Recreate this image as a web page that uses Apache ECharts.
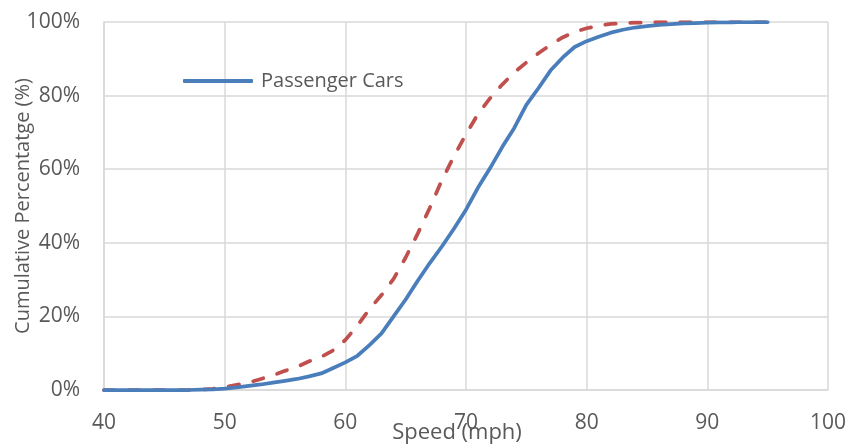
<!DOCTYPE html>
<html>
<head>
<meta charset="utf-8">
<script src="https://cdn.jsdelivr.net/npm/echarts@6/dist/echarts.min.js"></script>
<style>html,body{margin:0;padding:0;background:#fff}#c{width:850px;height:448px}</style>
</head>
<body>
<div id="c"></div>
<script>
const speedMph = [40,41,42,43,44,45,46,47,48,49,50,51,52,53,54,55,56,57,58,59,60,61,62,63,64,65,66,67,68,69,70,71,72,73,74,75,76,77,78,79,80,81,82,83,84,85,86,87,88,89,90,91,92,93,94,95];
const passengerCarsPct = [0,0,0,0,0,0,0,0,0.1,0.2,0.4,0.7,1.1,1.5,2.0,2.5,3.0,3.7,4.5,6.0,7.5,9.3,12.2,15.4,20.0,24.6,29.7,34.5,39.0,43.8,49.0,55.0,60.3,66.0,71.2,77.5,82.0,86.8,90.3,93.2,94.8,96.0,97.1,97.9,98.5,98.9,99.2,99.4,99.6,99.7,99.8,99.9,99.9,100,100,100];
const otherVehiclesPct = [0,0,0,0,0,0,0,0,0.1,0.3,0.8,1.4,2.0,3.0,4.0,5.2,6.3,7.8,9.0,10.8,13.6,17.5,22.0,25.8,30.2,36.0,42.5,49.5,57.0,63.5,69.5,75.0,79.3,83.0,86.3,89.0,91.5,93.8,95.8,97.3,98.3,99.0,99.5,99.7,99.8,99.9,100,100,100,100,100,100,100,100,100,100];
const xTicks = {min: 40, max: 100, interval: 10};
const yTicks = {min: 0, max: 100, interval: 20};
const xTitle = 'Speed (mph)';
const yTitle = 'Cumulative Percentatge (%)';
const legendNames = ['Passenger Cars'];

const font = '"Open Sans", sans-serif';
const txt = '#595959';
const gridColor = '#d9d9d9';

const chart = echarts.init(document.getElementById('c'), null, {renderer: 'canvas'});
chart.setOption({
  animation: false,
  backgroundColor: '#fff',
  grid: {left: 104, right: 22, top: 22, bottom: 58, containLabel: false, outerBoundsMode: 'none'},
  legend: {
    data: legendNames.map(n => ({name: n, icon: 'roundRect'})),
    left: 178, top: 66,
    itemWidth: 70, itemHeight: 4, itemGap: 8,
    textStyle: {fontFamily: font, fontSize: 20, color: txt, padding: [0,0,0,3]}
  },
  xAxis: {
    type: 'value', min: xTicks.min, max: xTicks.max, interval: xTicks.interval,
    name: xTitle, nameLocation: 'middle', nameGap: 32, nameMoveOverlap: false,
    nameTextStyle: {fontFamily: font, fontSize: 22, color: txt, padding: [0,18,0,0]},
    axisLine: {show: true, lineStyle: {color: gridColor, width: 1.5}},
    axisTick: {show: false},
    axisLabel: {fontFamily: font, fontSize: 21, color: txt, margin: 23},
    splitLine: {show: true, lineStyle: {color: gridColor, width: 1.5}}
  },
  yAxis: {
    type: 'value', min: yTicks.min, max: yTicks.max, interval: yTicks.interval,
    name: yTitle, nameLocation: 'middle', nameGap: 71, nameRotate: 90, nameMoveOverlap: false,
    nameTextStyle: {fontFamily: font, fontSize: 20, color: txt},
    axisLine: {show: true, lineStyle: {color: gridColor, width: 1.5}},
    axisTick: {show: false},
    axisLabel: {fontFamily: font, fontSize: 21, color: txt, margin: 24, formatter: '{value}%'},
    splitLine: {show: true, lineStyle: {color: gridColor, width: 1.5}}
  },
  series: [
    {
      name: 'Other Vehicles', type: 'line', symbol: 'none', smooth: false,
      data: speedMph.map((s, i) => [s, otherVehiclesPct[i]]),
      lineStyle: {color: '#c0504d', width: 3.75, type: [10.5, 14.5], cap: 'round', join: 'round'},
      itemStyle: {color: '#c0504d'}, z: 2
    },
    {
      name: 'Passenger Cars', type: 'line', symbol: 'none', smooth: false,
      data: speedMph.map((s, i) => [s, passengerCarsPct[i]]),
      lineStyle: {color: '#4a7ebb', width: 3.75, cap: 'round', join: 'round'},
      itemStyle: {color: '#4a7ebb'}, z: 3
    }
  ]
});
</script>
</body>
</html>
